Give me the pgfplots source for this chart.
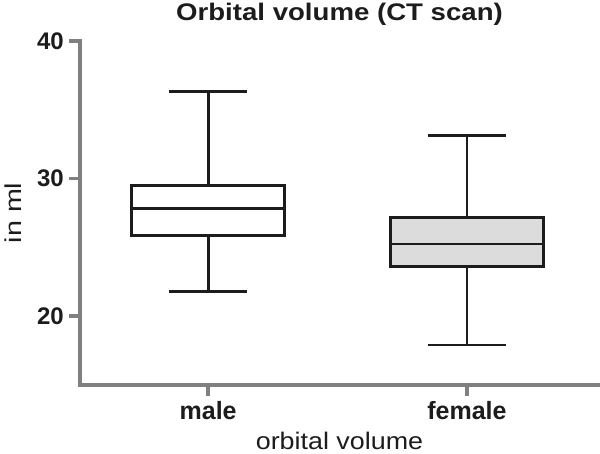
\documentclass[border=0pt]{standalone}
\usepackage{fontspec}
\setmainfont{Liberation Sans}
\usepackage{graphicx}
\usepackage{pgfplots}
\usepgfplotslibrary{statistics}
\pgfplotsset{compat=1.18}
\definecolor{axgray}{HTML}{808080}
\definecolor{ink}{HTML}{1C1C1C}
\definecolor{fem}{HTML}{DCDCDC}
\begin{document}
\begin{tikzpicture}
\path[use as bounding box] (-80pt,-69pt) rectangle (520pt,385pt);
\begin{axis}[
  at={(0pt,0pt)}, anchor=south west,
  scale only axis, width=519pt, height=344.1pt,
  xmin=0.505, xmax=2.51, ymin=15, ymax=40,
  axis x line*=bottom, axis y line*=left,
  axis line style={axgray, line width=4pt, line cap=rect},
  xtick={1,2}, xticklabels={male,female},
  ytick={20,30,40}, yticklabels={20,30,40},
  minor tick num=0,
  tick align=outside, major tick length=11pt,
  tick style={axgray, line width=3.5pt},
  xticklabel style={font=\fontsize{25}{25}\selectfont\bfseries, text=ink, anchor=base, inner sep=0pt, yshift=-24pt},
  yticklabel style={font=\fontsize{24}{24}\selectfont\bfseries, text=ink, anchor=east, inner sep=0pt, xshift=-5pt},
  title={\scalebox{1.15}[1]{Orbital volume (CT scan)}},
  title style={font=\fontsize{24}{24}\selectfont\bfseries, text=ink, at={(axis description cs:0.5,1)}, anchor=base, yshift=14pt, inner sep=0pt},
  xlabel={\scalebox{1.12}[1]{orbital volume}},
  xlabel style={font=\fontsize{24}{24}\selectfont, text=ink, at={(axis description cs:0.5,0)}, anchor=base, yshift=-65pt, inner sep=0pt},
  ylabel={\scalebox{1.25}[1]{in ml}},
  ylabel style={font=\fontsize{23}{23}\selectfont, text=ink, at={(axis description cs:0,0.5)}, anchor=center, yshift=67pt, inner sep=0pt},
  clip=false,
  boxplot/draw direction=y,
  boxplot/every box/.style={draw=ink, line width=2.8pt},
  boxplot/every whisker/.style={draw=ink, line width=2.8pt},
  boxplot/every median/.style={draw=ink, line width=2.8pt},
]
\addplot+[mark=none, solid, draw=ink, line width=2.8pt, fill=white,
  boxplot prepared={draw position=1, lower whisker=21.77, lower quartile=25.84, median=27.83, upper quartile=29.47, upper whisker=36.30, box extend=0.59, whisker extend=0.3}] coordinates {};
\addplot+[mark=none, solid, draw=ink, line width=2.8pt, fill=fem,
  boxplot prepared={draw position=2, lower whisker=17.90, lower quartile=23.59, median=25.24, upper quartile=27.17, upper whisker=33.13, box extend=0.59, whisker extend=0.3}] coordinates {};
\end{axis}
\end{tikzpicture}
\end{document}
